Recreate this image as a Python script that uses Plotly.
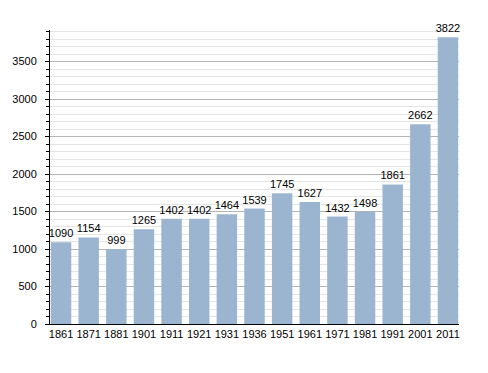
import plotly.graph_objects as go

years = ["1861", "1871", "1881", "1901", "1911", "1921", "1931", "1936",
         "1951", "1961", "1971", "1981", "1991", "2001", "2011"]
population = [1090, 1154, 999, 1265, 1402, 1402, 1464, 1539,
              1745, 1627, 1432, 1498, 1861, 2662, 3822]

bar_color = "#9bb4cf"
font_family = "Liberation Sans, Arial, sans-serif"

fig = go.Figure(
    go.Bar(
        x=years,
        y=population,
        marker=dict(color=bar_color, line=dict(width=0)),
        width=0.74,
        text=[str(v) for v in population],
        textposition="outside",
        constraintext="none",
        textfont=dict(color="black", size=11, family=font_family),
        cliponaxis=False,
    )
)

fig.update_layout(
    width=488,
    height=373,
    margin=dict(l=42, r=37, t=22, b=57, autoexpand=False),
    paper_bgcolor="white",
    plot_bgcolor="white",
    showlegend=False,
    uniformtext=dict(mode=False),
    font=dict(family=font_family, size=11, color="black"),
    xaxis=dict(
        type="category",
        range=[-0.4, 14.4],
        showline=True,
        linecolor="black",
        linewidth=1,
        ticks="",
        showgrid=False,
        tickfont=dict(size=11, color="black"),
    ),
    yaxis=dict(
        range=[0, 3920],
        dtick=500,
        tick0=0,
        showline=True,
        linecolor="black",
        linewidth=1,
        ticks="outside",
        ticklen=4,
        tickcolor="black",
        ticklabelstandoff=6,
        showgrid=True,
        gridcolor="#b4b4b4",
        gridwidth=1,
        zeroline=False,
        tickfont=dict(size=11, color="black"),
        minor=dict(
            dtick=100,
            showgrid=True,
            gridcolor="#e4e4e4",
            gridwidth=1,
            ticks="outside",
            ticklen=3,
            tickcolor="black",
        ),
    ),
)

fig.write_html("out.html")
